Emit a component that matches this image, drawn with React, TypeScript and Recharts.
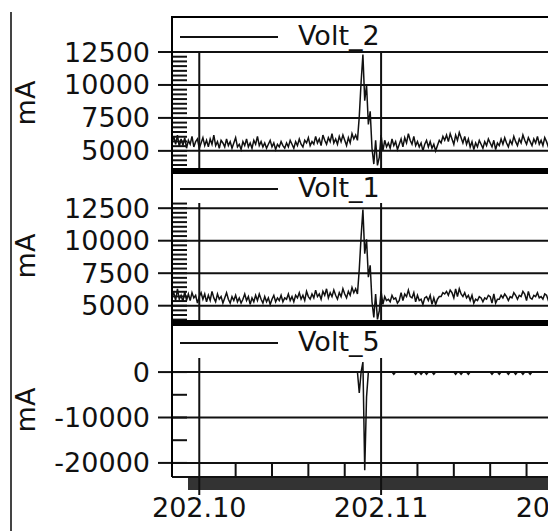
import React from 'react';
import { LineChart, Line, XAxis, YAxis, ReferenceLine, Legend } from 'recharts';

// sample clock: one reading every 0.0001 starting at 202.0985
const T0 = 202.0985;
const DT = 0.0001;

const volt2: number[] = [
  5600, 6100, 5500, 6200, 5300, 5900, 5400, 6000, 5200, 5800,
  5500, 6100, 5300, 5700, 5900, 5200, 5600, 6000, 5400, 5800,
  5300, 5900, 5500, 6200, 5400, 5700, 5200, 5800, 5600, 5300,
  5900, 5400, 5700, 5200, 5600, 6000, 5300, 5500, 5100, 5700,
  5400, 5900, 5300, 5600, 5200, 5800, 5500, 6100, 5400, 5700,
  5300, 5600, 5200, 5500, 5800, 5300, 5600, 5100, 5500, 5300,
  5700, 5400, 5200, 5600, 5300, 5800, 5500, 5200, 5700, 5400,
  5900, 5500, 5300, 5800, 5600, 6000, 5400, 5700, 5500, 6100,
  5600, 5900, 5400, 6200, 5800, 5500, 6000, 5700, 6300, 5600,
  5900, 5500, 6100, 5700, 6200, 5800, 5400, 6000, 5600, 6300,
  5900, 6200, 5800, 7600, 10200, 12300, 8800, 10000, 7000, 8000,
  5200, 4000, 5800, 3900, 4500, 6200, 5000, 5800, 5300, 5600,
  5200, 5900, 5400, 5700, 5100, 5500, 5900, 5300, 6000, 5600,
  6300, 5800, 5500, 6100, 5400, 5700, 5300, 5600, 5000, 5500,
  5800, 5300, 5700, 5200, 5500, 5000, 5400, 5800, 5600, 6100,
  5800, 6200, 5700, 6300, 5900, 5500, 6200, 5800, 6400, 6000,
  5600, 6100, 5500, 5900, 5300, 5700, 5100, 5600, 5300, 5800,
  5500, 5200, 5700, 5400, 5900, 5600, 5300, 5800, 5100, 5600,
  5400, 5900, 5500, 6000, 5600, 5300, 5800, 5500, 6100, 5700,
  5400, 5900, 5600, 6200, 5800, 5500, 6000, 5700, 5400, 5900,
  5600, 6100, 5500, 5800, 5400, 6000, 5700, 5300, 5800, 5500,
  5900, 5600, 6100, 5700, 5400, 5900, 5600, 6000, 5500, 5800,
  5600,
];

const volt1: number[] = [
  5700, 6000, 5400, 6300, 5500, 5800, 5300, 6100, 5400, 5900,
  5400, 6000, 5600, 5800, 5200, 5700, 6000, 5500, 5900, 5300,
  5800, 5400, 6100, 5600, 5300, 5900, 5500, 5700, 5200, 5600,
  6000, 5500, 5200, 5700, 5400, 5800, 5300, 5600, 5200, 5500,
  5900, 5400, 5700, 5100, 5600, 5300, 5800, 5400, 5900, 5500,
  5200, 5700, 5300, 5600, 5100, 5500, 5800, 5300, 5600, 5400,
  5800, 5300, 5600, 5500, 5900, 5400, 5700, 5300, 5800, 5600,
  6000, 5500, 5800, 5400, 6100, 5700, 5500, 5900, 5600, 6200,
  5700, 5900, 5500, 6100, 5800, 6300, 5600, 6000, 5700, 6200,
  5800, 5500, 6000, 5700, 6300, 5900, 5600, 6100, 5800, 6400,
  6000, 6300, 5900, 7800, 10300, 12400, 9000, 10100, 7200, 8100,
  5300, 4100, 5900, 3950, 4600, 6100, 5100, 5700, 5400, 5500,
  5300, 5800, 5500, 5600, 5200, 5400, 6000, 5400, 5900, 5700,
  6200, 5700, 5600, 6000, 5300, 5800, 5400, 5500, 5100, 5600,
  5700, 5400, 5800, 5100, 5600, 5100, 5500, 5700, 5700, 6000,
  5900, 6100, 5800, 6200, 6000, 5600, 6300, 5700, 6300, 5900,
  5700, 6000, 5600, 5800, 5400, 5800, 5200, 5500, 5400, 5700,
  5600, 5300, 5600, 5500, 5800, 5700, 5200, 5900, 5200, 5500,
  5500, 5800, 5600, 5900, 5700, 5400, 5700, 5600, 6000, 5800,
  5500, 5800, 5700, 6100, 5900, 5400, 6100, 5600, 5500, 5800,
  5700, 6000, 5600, 5700, 5500, 5900, 5800, 5400, 5700, 5600,
  5800, 5700, 6000, 5800, 5500, 5800, 5700, 5900, 5600, 5700,
  5700,
];

const volt5: number[] = [
  0, 0, 0, 0, 0, 0, 0, 0, 0, 0, 0, 0, 0, 0, 0, 0, 0, 0, 0, 0,
  0, 0, 0, 0, 0, 0, 0, 0, 0, 0, 0, 0, 0, 0, 0, 0, 0, 0, 0, 0,
  0, 0, 0, 0, 0, 0, 0, 0, 0, 0, 0, 0, 0, 0, 0, 0, 0, 0, 0, 0,
  0, 0, 0, 0, 0, 0, 0, 0, 0, 0, 0, 0, 0, 0, 0, 0, 0, 0, 0, 0,
  0, 0, 0, 0, 0, 0, 0, 0, 0, 0, 0, 0, 0, 0, 0, 0, 0, 0, 0, 0,
  0, 0, 0, -4600, 0, 2200, -21600, -5500, 0, 0, 0, 0, 0, 0, 0, 0, 0, 0, 0, 0,
  0, 0, -500, 0, 0, 0, 0, 0, 0, 0, 0, 0, 0, 0, -500, 0, 0, -500, 0, 0,
  -500, 0, 0, 0, -500, 0, 0, 0, 0, 0, 0, 0, 0, 0, 0, 0, -500, 0, 0, -500,
  0, 0, 0, -500, 0, 0, 0, 0, 0, 0, 0, 0, 0, 0, 0, 0, -500, 0, 0, 0,
  -500, 0, 0, 0, 0, -500, 0, 0, 0, -500, 0, 0, 0, -500, 0, 0, 0, -500, 0, 0,
  0, 0, 0, 0, 0, 0, 0, 0, 0, 0, 0, 0, 0, 0, 0, 0, 0, 0, 0, 0,
  0,
];

const xMajor = [202.1, 202.11, 202.12];
const xMinor = [
  202.1, 202.102, 202.104, 202.106, 202.108, 202.11,
  202.112, 202.114, 202.116, 202.118, 202.12,
];

const mAMajor = [5000, 7500, 10000, 12500];
// seven minor divisions per 2500 mA
const mAMinor = [
  3929, 4286, 4643, 5000, 5357, 5714, 6071, 6429, 6786, 7143, 7500,
  7857, 8214, 8571, 8929, 9286, 9643, 10000, 10357, 10714, 11071,
  11429, 11786, 12143, 12500, 12857,
];
const v5Major = [-20000, -10000, 0];
const v5Minor = [-20000, -15000, -10000, -5000, 0];

const CHART_W = 600;
const PLOT_LEFT = 164;
const X_END = T0 + (volt2.length - 1) * DT;
const INK = '#111';
const FONT = { fontFamily: '"DejaVu Sans", sans-serif', fontSize: 27, fill: INK };

const panels = [
  { name: 'Volt_2', values: volt2, domain: [3700, 12500], major: mAMajor, minor: mAMinor,
    top: 0, marginTop: 44, plotH: 116, legendY: 29, unitY: 95, showX: false },
  { name: 'Volt_1', values: volt1, domain: [3900, 12900], major: mAMajor, minor: mAMinor,
    top: 160, marginTop: 35, plotH: 117, legendY: 21, unitY: 88, showX: false },
  { name: 'Volt_5', values: volt5, domain: [-23100, 3100], major: v5Major, minor: v5Minor,
    top: 312, marginTop: 38, plotH: 119, legendY: 23, unitY: 90, showX: true },
];

const YTick = (props: any) => {
  const { y, payload, majors } = props;
  const v = payload.value;
  const isMajor = majors.includes(v);
  return (
    <g>
      <line x1={PLOT_LEFT} x2={PLOT_LEFT + 15} y1={y} y2={y} stroke={INK} strokeWidth={2} />
      {isMajor && <line x1={PLOT_LEFT - 14} x2={PLOT_LEFT} y1={y} y2={y} stroke={INK} strokeWidth={2} />}
      {isMajor && (
        <text x={PLOT_LEFT - 22} y={y} dy={9.5} textAnchor="end" {...FONT}>
          {v}
        </text>
      )}
    </g>
  );
};

const XTick = (props: any) => {
  const { x, payload, bottom } = props;
  const v = payload.value;
  const isMajor = xMajor.some((m) => Math.abs(m - v) < 1e-7);
  if (isMajor) {
    return (
      <g>
        <line x1={x} x2={x} y1={bottom} y2={bottom + 18} stroke={INK} strokeWidth={2} />
        <text x={x} y={bottom + 40} textAnchor="middle" {...FONT}>
          {v.toFixed(2)}
        </text>
      </g>
    );
  }
  return <line x1={x} x2={x} y1={bottom - 14} y2={bottom} stroke={INK} strokeWidth={2} />;
};

const UnitLabel = ({ cy }: { cy: number }) => (
  <text x={27} y={cy} transform={`rotate(-90, 27, ${cy})`} textAnchor="middle" {...FONT}>
    mA
  </text>
);

const PanelLegend = ({ payload, lineY, fallback }: any) => {
  const name = payload && payload.length ? payload[0].value : fallback;
  return (
    <svg width={CHART_W} height={lineY + 14} style={{ display: 'block' }}>
      <line x1={172} x2={270} y1={lineY} y2={lineY} stroke={INK} strokeWidth={2} />
      <text x={290} y={lineY + 8} {...FONT}>
        {name}
      </text>
    </svg>
  );
};

const Panel = ({ p }: { p: (typeof panels)[number] }) => {
  const rows = p.values.map((v, i) => ({ t: +(T0 + i * DT).toFixed(4), v }));
  const xAxisH = p.showX ? 50 : 0;
  const height = p.marginTop + p.plotH + xAxisH;
  const bottom = p.marginTop + p.plotH;
  const ticks = p.minor.filter((v) => v >= p.domain[0] && v <= p.domain[1]);
  return (
    <div style={{ position: 'absolute', left: 0, top: p.top }}>
      <LineChart width={CHART_W} height={height} data={rows} margin={{ top: p.marginTop, right: 36, left: 0, bottom: 0 }}>
        <XAxis
          dataKey="t"
          type="number"
          domain={[T0, X_END]}
          allowDataOverflow
          hide={!p.showX}
          height={xAxisH}
          ticks={xMinor}
          interval={0}
          axisLine={{ stroke: INK, strokeWidth: 2 }}
          tickLine={false}
          tick={(tp: any) => <XTick {...tp} bottom={bottom} />}
        />
        <YAxis
          type="number"
          domain={p.domain}
          allowDataOverflow
          ticks={ticks}
          interval={0}
          width={PLOT_LEFT}
          axisLine={false}
          tickLine={false}
          tick={(tp: any) => <YTick {...tp} majors={p.major} />}
          label={<UnitLabel cy={p.unitY} />}
        />
        {p.major.map((v) => (
          <ReferenceLine key={`y${v}`} y={v} stroke={INK} strokeWidth={2} />
        ))}
        {xMajor.map((v) => (
          <ReferenceLine key={`x${v}`} x={v} stroke={INK} strokeWidth={2} />
        ))}
        <Legend
          layout="horizontal"
          verticalAlign="middle"
          align="center"
          wrapperStyle={{ position: 'absolute', left: 0, top: 0, width: CHART_W, margin: 0 }}
          content={(lp: any) => <PanelLegend payload={lp.payload} lineY={p.legendY} fallback={p.name} />}
        />
        <Line
          type="linear"
          dataKey="v"
          name={p.name}
          stroke={INK}
          strokeWidth={1.5}
          dot={false}
          isAnimationActive={false}
        />
      </LineChart>
    </div>
  );
};

const App = () => {
  const bar = (top: number, h: number) => (
    <div style={{ position: 'absolute', left: 163, top, width: 400, height: h, background: '#000' }} />
  );
  return (
    <div style={{ position: 'relative', width: 548, height: 523, overflow: 'hidden', background: '#fff' }}>
      <div style={{ position: 'absolute', left: 2, top: 4, width: 2, height: 519, background: '#444' }} />
      <div style={{ position: 'absolute', left: 180, top: 470, width: 400, height: 12, background: '#333' }} />
      {panels.map((p) => (
        <Panel key={p.name} p={p} />
      ))}
      <div style={{ position: 'absolute', left: 163, top: 8, width: 2, height: 461, background: '#000' }} />
      {bar(8, 2)}
      {bar(160, 6)}
      {bar(312, 6)}
    </div>
  );
};

export default App;
